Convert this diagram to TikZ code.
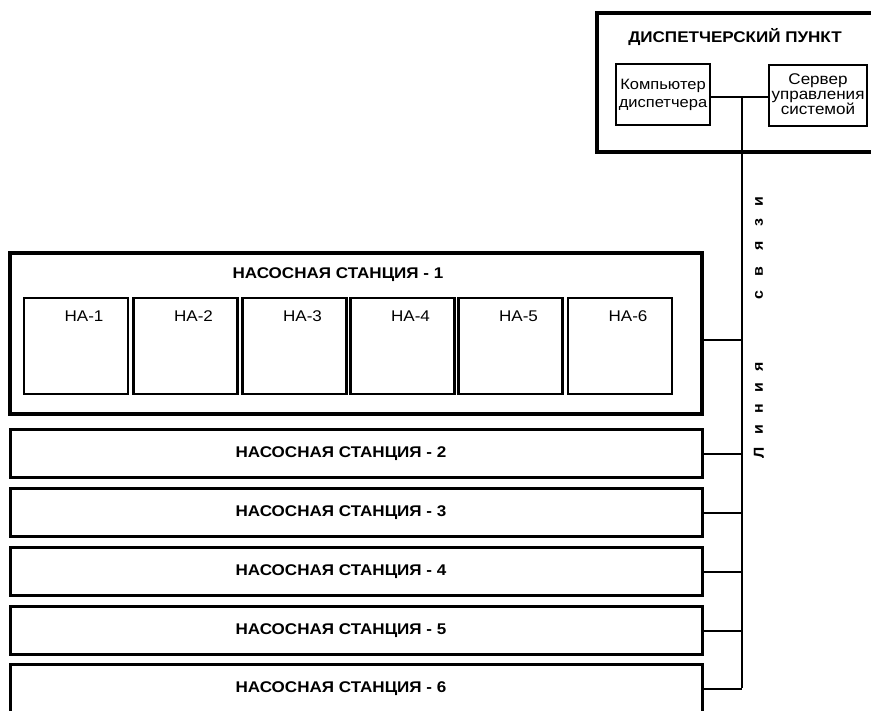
\documentclass[tikz,border=0pt]{standalone}
\usepackage{fontspec}
\setmainfont[FakeStretch=1.1]{Liberation Sans}
\usepackage{tikz}
\usetikzlibrary{positioning,calc}

\tikzset{
  box/.style={draw,rectangle,inner sep=0pt,fill=white},
  titletext/.style={font=\fontsize{15.5}{17}\selectfont\bfseries,inner sep=0pt},
  station/.style={box,line width=3pt,minimum width=692pt,minimum height=48pt,
                  font=\fontsize{15.5}{17}\selectfont\bfseries},
  pumpbox/.style={box,line width=2.5pt,minimum width=104pt,minimum height=96pt},
  pumplabel/.style={font=\fontsize{15.5}{17}\selectfont,inner sep=0pt},
  pcbox/.style={box,line width=2pt,minimum height=61pt,align=center,
                font=\fontsize{15}{18}\selectfont},
  wire/.style={line width=2pt},
  linechar/.style={font=\fontsize{14.5}{14.5}\selectfont\bfseries,rotate=90,inner sep=0pt}
}

\begin{document}
\begin{tikzpicture}[x=1pt,y=-1pt]
  \useasboundingbox (0,0) rectangle (871,711);
  \clip (0,0) rectangle (871,711);

  % dispatcher point
  \node[box,line width=4pt,minimum width=279pt,minimum height=139pt] (disp) at (736.5,82.5) {};
  \node[titletext] (disptitle) at (735,37) {ДИСПЕТЧЕРСКИЙ ПУНКТ};
  \node[pcbox,minimum width=94pt] (pc) at (663,94.5) {\raisebox{-1.5pt}{\parbox{90pt}{\centering Компьютер\\диспетчера}}};
  \node[box,line width=2pt,minimum width=98pt,minimum height=61pt] (srv) at (818,95.5) {};
  \node[align=center,inner sep=0pt,font=\fontsize{15.5}{14.8}\selectfont] (srvtext) at ([yshift=1.5pt]srv.center) {Сервер\\управления\\системой};
  \draw[wire] (pc.east |- 0,97) -- (srv.west |- 0,97);
  \coordinate (bustop) at (742,97);
  \coordinate (busbot) at (742,688);
  \draw[wire] (bustop) -- (busbot);

  % pumping stations
  \node[station,line width=3.5pt,minimum height=161pt] (st1) at (356,333.5) {};
  \node[titletext] (st1title) at (338,275) {НАСОСНАЯ СТАНЦИЯ - 1};
  \foreach \n/\cx in {2/454,3/512.5,4/571.5,5/630.5,6/688.5}{
    \node[station] (st\n) at (356,\cx) {\hspace*{-30pt}НАСОСНАЯ СТАНЦИЯ - \n};
    \draw[wire] (st\n.east) -- (st\n.east -| busbot);
  }
  \draw[wire] ([yshift=-6.5pt]st1.east) -- ([yshift=-6.5pt]st1.east -| busbot);

  % pump units
  \foreach \n/\px in {1/76,2/185.5,3/294.5,4/402.5,5/510.5,6/620}{
    \node[pumpbox] (ha\n) at (\px,346) {};
    \node[pumplabel] (hal\n) at ([xshift=8pt,yshift=-19pt]ha\n.north) {НА-\n};
  }

  % communication line label
  \foreach \ch/\ly [count=\i] in {Л/453,и/430,н/409,и/388,я/367,с/295,в/272,я/246,з/223,и/202}
    \node[linechar] (lc\i) at (759,\ly) {\ch};
\end{tikzpicture}
\end{document}
